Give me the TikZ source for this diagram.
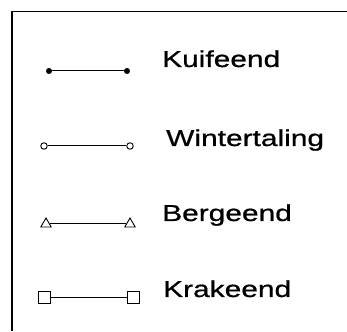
\documentclass[tikz,border=0pt]{standalone}
\usepackage{fontspec}
\newfontfamily\labfont{Liberation Sans}[FakeStretch=1.3,FakeBold=0.8]
\usetikzlibrary{shapes.geometric}
\begin{document}
\begin{tikzpicture}[x=1pt,y=1pt,
  lab/.style={anchor=base west,inner sep=0pt,font=\labfont\fontsize{23}{26}\selectfont},
  fdot/.style={circle,fill=black,draw=black,inner sep=0pt,minimum size=5.5pt},
  odot/.style={circle,draw=black,fill=white,line width=0.9pt,inner sep=0pt,minimum size=6.5pt},
  otri/.style={regular polygon,regular polygon sides=3,draw=black,line width=0.9pt,inner sep=0pt,minimum size=12pt},
  osq/.style={rectangle,draw=black,line width=1pt,inner sep=0pt,minimum size=12pt},
  conn/.style={line width=1pt}]
\useasboundingbox (0,0) rectangle (347,331);
\coordinate (fa) at (12,0);
\coordinate (fb) at (12,320);
\coordinate (fc) at (347,320);
\draw[line width=1.4pt] (fa) -- (fb);
\draw[line width=0.6pt] (fb) -- (fc);
% Kuifeend
\node[fdot] (k1) at (49,260) {};
\node[fdot] (k2) at (127,260) {};
\draw[conn] (k1) -- (k2);
\node[lab] (kt) at (162,264) {Kuifeend};
% Wintertaling
\node[odot] (w1) at (44,185) {};
\node[odot] (w2) at (130,185) {};
\draw[conn] (w1) -- (w2);
\node[lab] (wt) at (166,185) {Wintertaling};
% Bergeend
\node[otri] (b1) at (46,107) {};
\node[otri] (b2) at (130,107) {};
\draw[conn] (b1) -- (b2);
\node[lab] (bt) at (162,110) {Bergeend};
% Krakeend
\node[osq] (r1) at (44,33) {};
\node[osq] (r2) at (133,33) {};
\draw[conn] (r1) -- (r2);
\node[lab] (rt) at (163,34) {Krakeend};
\end{tikzpicture}
\end{document}
